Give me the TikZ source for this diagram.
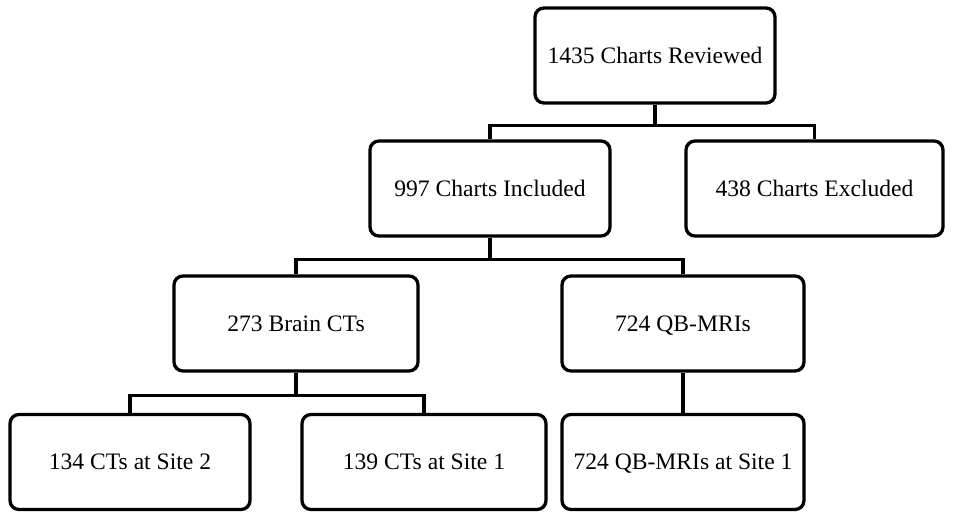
\documentclass[tikz,border=0pt]{standalone}
\usepackage{fontspec}
\setmainfont{Liberation Serif}
\begin{document}
\begin{tikzpicture}[x=1pt,y=-1pt,
  box/.style={draw=black, line width=3.3pt, rounded corners=9pt, fill=white,
    minimum width=240pt, minimum height=95pt, inner sep=0pt, anchor=center,
    text height=15.6pt, text depth=0pt,
    font=\fontsize{23.6}{27}\selectfont},
  conn/.style={draw=black, line width=3.3pt}]
\useasboundingbox (0,0) rectangle (954,512);
\node[box] (a) at (655,55.5) {1435 Charts Reviewed};
\node[box] (b) at (490,188.5) {997 Charts Included};
\node[box, minimum width=257pt] (c) at (814.5,188.5) {438 Charts Excluded};
\node[box, minimum width=244pt] (d) at (296,323.5) {273 Brain CTs};
\node[box, minimum width=242pt] (e) at (683,323.5) {724 QB-MRIs};
\node[box] (f) at (130,462) {134 CTs at Site 2};
\node[box, minimum width=244pt] (g) at (424,462) {139 CTs at Site 1};
\node[box, minimum width=242pt] (h) at (683,462) {724 QB-MRIs at Site 1};
\draw[conn] (a.south) -- ++(0,21) -| (b.north);
\draw[conn] (a.south) ++(0,21) -| (c.north);
\draw[conn] (b.south) -- ++(0,22) -| (d.north);
\draw[conn] (b.south) ++(0,22) -| (e.north);
\draw[conn] (d.south) -- ++(0,23) -| (f.north);
\draw[conn] (d.south) ++(0,23) -| (g.north);
\draw[conn] (e.south) -- (h.north);
\end{tikzpicture}
\end{document}
